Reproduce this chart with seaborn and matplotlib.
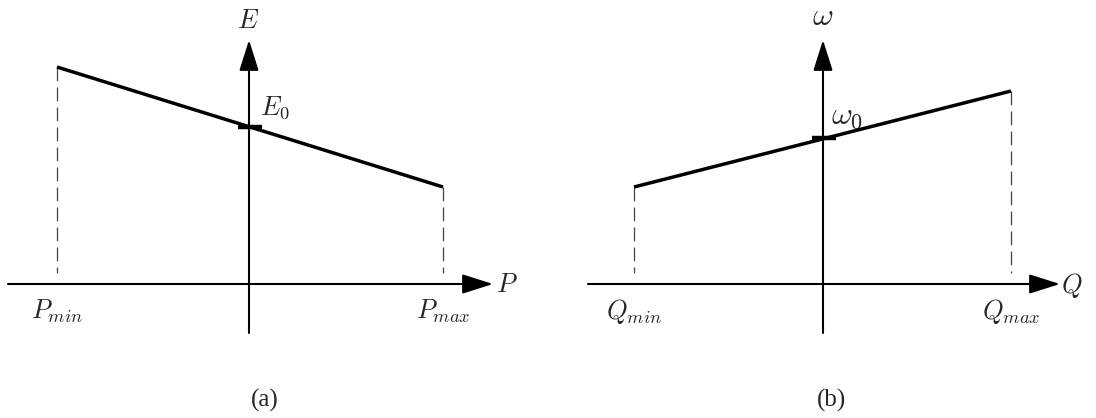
import numpy as np
import pandas as pd
import seaborn as sns
import matplotlib.pyplot as plt
from matplotlib import font_manager
from matplotlib.patches import FancyArrowPatch

# Droop characteristic (a): E versus P
P_limits = [-1.92, 1.94]
E_at_P_limits = [2.17, 0.97]
E0 = 1.57

# Droop characteristic (b): omega versus Q
Q_limits = [-1.89, 1.88]
w_at_Q_limits = [0.97, 1.93]
w0 = 1.46

# Axis extents (left/right of horizontal axis, bottom/top of vertical axis)
a_haxis = [-2.41, 2.44]
b_haxis = [-2.35, 2.37]
vaxis = [-0.49, 2.44]

sns.set_style("white")
plt.rcParams["mathtext.fontset"] = "cm"
plt.rcParams["font.family"] = ["Liberation Serif", "DejaVu Serif"]

caption_font = font_manager.findfont(
    font_manager.FontProperties(family="Liberation Serif"),
    fallback_to_default=False)
if "Liberation" not in caption_font:
    raise RuntimeError(caption_font)

fig = plt.figure(figsize=(10.96, 4.18), dpi=100)
ax_a = fig.add_axes([0, 0, 520 / 1096, 1])
ax_b = fig.add_axes([560 / 1096, 0, 536 / 1096, 1])
ax_a.set_xlim(-2.49, 2.71)
ax_b.set_xlim(-2.63, 2.73)
for ax in (ax_a, ax_b):
    ax.set_ylim(-1.34, 2.84)
    ax.set_axis_off()


def arrow(ax, start, end):
    ax.add_patch(FancyArrowPatch(
        start, end, arrowstyle="-|>,head_length=1.9,head_width=0.6",
        mutation_scale=10, lw=1.5, color="black", shrinkA=0, shrinkB=0,
        zorder=3))


def segment(ax, xs, ys, **kws):
    df = pd.DataFrame({"x": xs, "y": ys})
    sns.lineplot(data=df, x="x", y="y", ax=ax, estimator=None, sort=False,
                 legend=False, **kws)


def panel(ax, xlims, ylims, y0, haxis, xlab, ylab, xmin_lab, xmax_lab,
          y0_lab, y0_pos, ylab_pos, xlab_pos, caption, cap_x, ylab_fs):
    # coordinate axes with arrow heads
    arrow(ax, (haxis[0], 0), (haxis[1], 0))
    arrow(ax, (0, vaxis[0]), (0, vaxis[1]))

    # droop line
    segment(ax, xlims, ylims, color="black", lw=2.5,
            solid_capstyle="butt", zorder=4)

    # dashed drop lines to the horizontal axis
    for xv, yv in zip(xlims, ylims):
        n0 = len(ax.lines)
        segment(ax, [xv, xv], [yv, 0.11], color="#444444", lw=0.9, zorder=2)
        for ln in ax.lines[n0:]:
            ln.set_dashes((11, 5))

    # nominal value tick on the vertical axis
    segment(ax, [-0.11, 0.13], [y0, y0], color="black", lw=3.2,
            solid_capstyle="butt", zorder=5)

    fs = 19
    ax.text(*ylab_pos, ylab, fontsize=ylab_fs, ha="center", va="center")
    ax.text(*xlab_pos, xlab, fontsize=fs, ha="center", va="center")
    ax.text(xlims[0], -0.27, xmin_lab, fontsize=fs, ha="center", va="center")
    ax.text(xlims[1], -0.27, xmax_lab, fontsize=fs, ha="center", va="center")
    ax.text(*y0_pos, y0_lab, fontsize=ylab_fs, ha="center", va="center")
    ax.text(cap_x, -1.16, caption, fontsize=18, ha="center", va="center",
            fontfamily="Liberation Serif")
    ax.set_xlabel("")
    ax.set_ylabel("")


panel(ax_a, P_limits, E_at_P_limits, E0, a_haxis, r"$P$", r"$E$",
      r"$P_{min}$", r"$P_{max}$", r"$E_0$", (0.26, 1.76),
      (-0.01, 2.62), (2.58, -0.01), "(a)", 0.16, 19)
panel(ax_b, Q_limits, w_at_Q_limits, w0, b_haxis, r"$Q$", r"$\omega$",
      r"$Q_{min}$", r"$Q_{max}$", r"$\omega_0$", (0.24, 1.67),
      (0.0, 2.66), (2.49, -0.01), "(b)", 0.09, 23)

fig.savefig("out.png", dpi=100, facecolor="white")
